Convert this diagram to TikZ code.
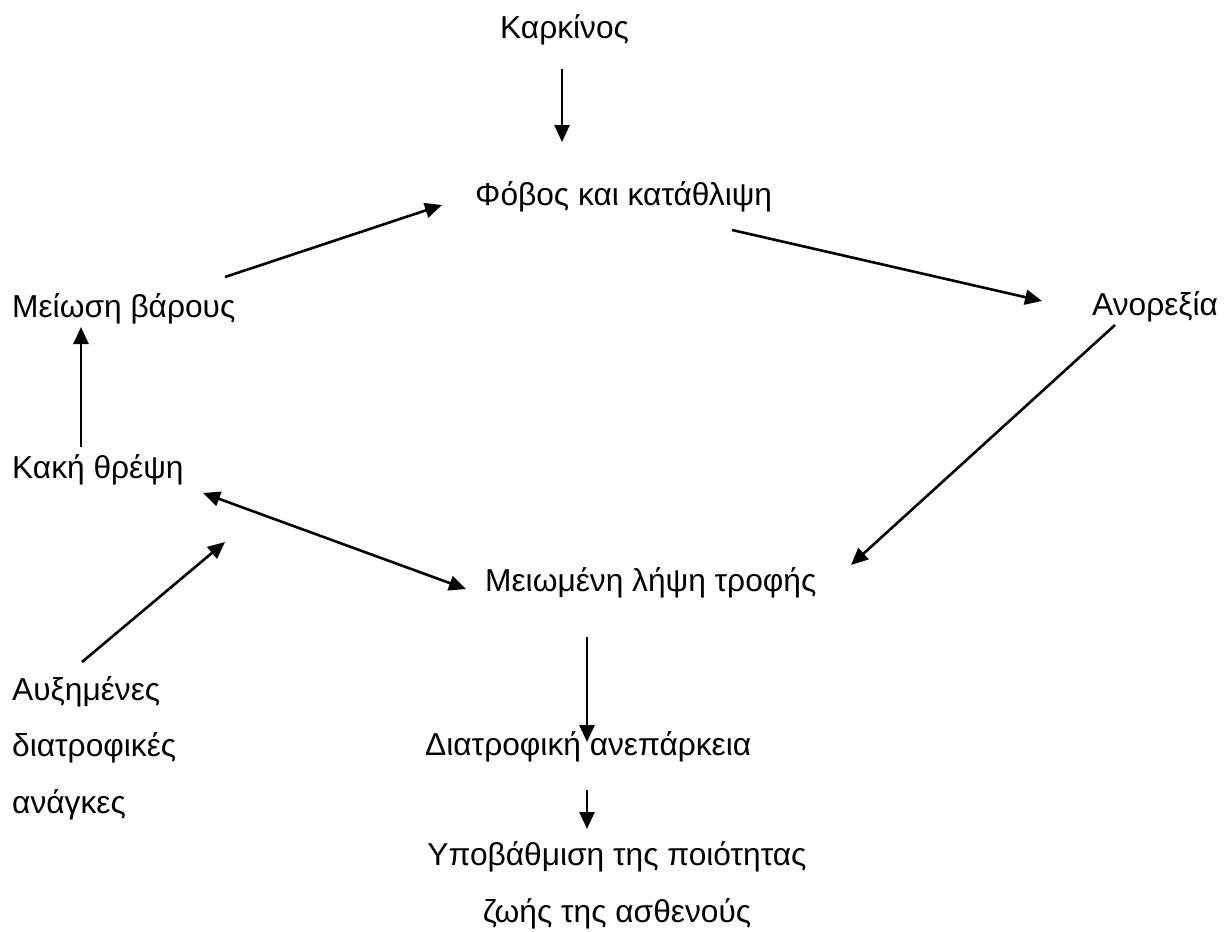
\documentclass[tikz,border=0pt]{standalone}
\usepackage{fontspec}
\setmainfont{Liberation Sans}
\usetikzlibrary{arrows.meta}

\begin{document}
\begin{tikzpicture}[x=1pt, y=-1pt,
  lbl/.style={inner sep=0pt, anchor=base west, font=\fontsize{31.7}{56.5}\selectfont},
  arr/.style={line width=2.6pt, -{Triangle[length=17pt, width=15pt]}},
  darr/.style={line width=2.6pt, {Triangle[length=17pt, width=15pt]}-{Triangle[length=17pt, width=15pt]}}]
  \useasboundingbox (0,0) rectangle (1227,932);

  % labels
  \node[lbl] (kark) at (500,38) {Καρκίνος};
  \node[lbl] (fobos) at (475,205) {Φόβος και κατάθλιψη};
  \node[lbl] (meiosi) at (12,317) {Μείωση βάρους};
  \node[lbl] (anor) at (1092,315) {Ανορεξία};
  \node[lbl] (kaki) at (12,478) {Κακή θρέψη};
  \node[lbl] (lipsi) at (485,591) {Μειωμένη λήψη τροφής};
  \node[lbl, align=left] (anagk) at (12,813) {Αυξημένες\\διατροφικές\\ανάγκες};
  \node[lbl] (diatr) at (425,755) {Διατροφική ανεπάρκεια};
  \node[lbl, anchor=base, align=center] (ypov) at (617,922) {Υποβάθμιση της ποιότητας\\ζωής της ασθενούς};

  % arrow ends
  \coordinate (a1) at (562,69);   \coordinate (b1) at (562,142);
  \coordinate (a2) at (225,277);  \coordinate (b2) at (442,205);
  \coordinate (a3) at (732,230);  \coordinate (b3) at (1042,301);
  \coordinate (a4) at (1115,325); \coordinate (b4) at (851,565);
  \coordinate (a5) at (203,493);  \coordinate (b5) at (466,589);
  \coordinate (a6) at (82,662);   \coordinate (b6) at (225,542);
  \coordinate (a7) at (81,447);   \coordinate (b7) at (81,327);
  \coordinate (a8) at (587,637);  \coordinate (b8) at (587,742);
  \coordinate (a9) at (587,790);  \coordinate (b9) at (587,829);

  \draw[arr] (a1) -- (b1);
  \draw[arr] (a2) -- (b2);
  \draw[arr] (a3) -- (b3);
  \draw[arr] (a4) -- (b4);
  \draw[darr] (a5) -- (b5);
  \draw[arr] (a6) -- (b6);
  \draw[arr] (a7) -- (b7);
  \draw[arr] (a8) -- (b8);
  \draw[arr] (a9) -- (b9);
\end{tikzpicture}
\end{document}
